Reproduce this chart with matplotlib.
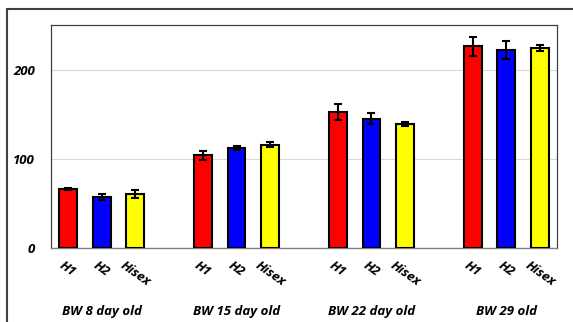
import matplotlib
matplotlib.use("Agg")
import matplotlib.pyplot as plt
from matplotlib.patches import Rectangle
import numpy as np

groups = ["BW 8 day old", "BW 15 day old", "BW 22 day old", "BW 29 old"]
breeds = ["H1", "H2", "Hisex"]
colors = ["#FF0000", "#0000FF", "#FFFF00"]
values = {
    "H1":    [66, 104, 152, 226],
    "H2":    [57, 112, 145, 222],
    "Hisex": [61, 116, 139, 224],
}
errors = {
    "H1":    [1.5, 5, 9, 11],
    "H2":    [3.5, 2, 6, 10.5],
    "Hisex": [4.5, 3, 2.5, 3.5],
}
yticks = [0, 100, 200]

FONT = ["Open Sans", "DejaVu Sans"]
plt.rcParams['font.family'] = FONT
FS = 9.5

W, H = 573, 322
fig = plt.figure(figsize=(W / 100, H / 100), dpi=100)
ax = fig.add_axes([51 / W, 1 - 248 / H, (557 - 51) / W, (248 - 25) / H])

xs_all, labels_all = [], []
for j, b in enumerate(breeds):
    xs = [i * 4 + j for i in range(len(groups))]
    ax.bar(xs, values[b], width=0.53, color=colors[j], edgecolor="black",
           linewidth=1.5, zorder=3)
    ax.errorbar(xs, values[b], yerr=errors[b], fmt="none", ecolor="black",
                elinewidth=1.5, capsize=3, capthick=1.5, zorder=4)

for i in range(len(groups)):
    for j, b in enumerate(breeds):
        xs_all.append(i * 4 + j)
        labels_all.append(b)

ax.set_xlim(-0.5, 14.5)
ax.set_ylim(0, 250)
ax.set_yticks(yticks)
ax.set_yticklabels([str(t) for t in yticks], fontsize=FS, fontweight="bold",
                   fontstyle="italic")
ax.set_xticks(xs_all)
ax.set_xticklabels(labels_all, rotation=-35, ha="center", va="top",
                   fontsize=FS, fontweight="bold", fontstyle="italic")
ax.tick_params(axis="both", length=0)
ax.tick_params(axis="y", pad=11.5)
ax.tick_params(axis="x", pad=8)
ax.grid(axis="y", color="#D9D9D9", linewidth=0.8, zorder=0)
for s in ["left", "top", "right"]:
    ax.spines[s].set_color("#404040")
    ax.spines[s].set_linewidth(0.9)
ax.spines["bottom"].set_color("#808080")
ax.spines["bottom"].set_linewidth(1.0)

for i, g in enumerate(groups):
    ax.text(i * 4 + 1, -0.285, g, transform=ax.get_xaxis_transform(),
            ha="center", va="center", fontsize=FS, fontweight="bold",
            fontstyle="italic")

fig.patches.append(Rectangle((7 / W, -0.1), 1.1, 1 - 9 / H + 0.1,
                             transform=fig.transFigure, fill=False,
                             edgecolor="#404040", linewidth=1.5))

fig.savefig("out.png", dpi=100)
